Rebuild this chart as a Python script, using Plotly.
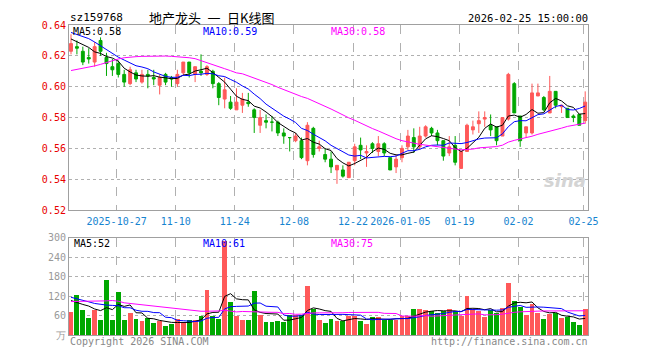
import numpy as np
import pandas as pd
import plotly.graph_objects as go

# ---------------- data ----------------
holidays = ['2026-01-01', '2026-01-02', '2026-02-16', '2026-02-17', '2026-02-18',
            '2026-02-19', '2026-02-20', '2026-02-23']
dates = [d.strftime('%Y-%m-%d') for d in pd.bdate_range('2025-10-15', '2026-02-25')
         if d.strftime('%Y-%m-%d') not in holidays]

open_ = [0.623, 0.626, 0.623, 0.619, 0.616, 0.630, 0.619, 0.613, 0.615, 0.608,
         0.602, 0.609, 0.603, 0.608, 0.606, 0.601, 0.608, 0.606, 0.602, 0.609,
         0.616, 0.608, 0.610, 0.608, 0.610, 0.602, 0.592, 0.590, 0.585, 0.588,
         0.590, 0.585, 0.575, 0.578, 0.577, 0.577, 0.570, 0.567, 0.565, 0.565,
         0.552, 0.573, 0.560, 0.556, 0.553, 0.546, 0.546, 0.541, 0.552, 0.562,
         0.557, 0.563, 0.558, 0.563, 0.554, 0.548, 0.554, 0.561, 0.567, 0.561,
         0.568, 0.573, 0.570, 0.565, 0.557, 0.562, 0.547, 0.558, 0.572, 0.576,
         0.579, 0.575, 0.574, 0.568, 0.579, 0.602, 0.581, 0.570, 0.570, 0.594,
         0.593, 0.583, 0.597, 0.587, 0.586, 0.581, 0.582, 0.578]
high = [0.634, 0.630, 0.626, 0.625, 0.629, 0.632, 0.622, 0.618, 0.617, 0.611,
        0.613, 0.611, 0.611, 0.611, 0.611, 0.608, 0.609, 0.607, 0.611, 0.616,
        0.616, 0.613, 0.621, 0.614, 0.611, 0.603, 0.606, 0.594, 0.599, 0.596,
        0.596, 0.586, 0.585, 0.582, 0.581, 0.578, 0.573, 0.567, 0.570, 0.567,
        0.577, 0.574, 0.565, 0.560, 0.558, 0.549, 0.549, 0.551, 0.563, 0.567,
        0.562, 0.564, 0.568, 0.564, 0.554, 0.556, 0.562, 0.572, 0.573, 0.574,
        0.575, 0.574, 0.572, 0.565, 0.568, 0.568, 0.558, 0.576, 0.578, 0.584,
        0.584, 0.582, 0.574, 0.580, 0.609, 0.603, 0.581, 0.574, 0.602, 0.602,
        0.594, 0.607, 0.597, 0.588, 0.586, 0.582, 0.582, 0.597]
low = [0.621, 0.621, 0.614, 0.615, 0.613, 0.620, 0.607, 0.607, 0.606, 0.600,
       0.601, 0.603, 0.602, 0.599, 0.601, 0.595, 0.601, 0.600, 0.600, 0.607,
       0.606, 0.603, 0.607, 0.607, 0.599, 0.588, 0.586, 0.585, 0.585, 0.583,
       0.587, 0.570, 0.570, 0.573, 0.571, 0.568, 0.563, 0.558, 0.564, 0.553,
       0.549, 0.554, 0.558, 0.551, 0.544, 0.537, 0.541, 0.541, 0.549, 0.553,
       0.548, 0.557, 0.555, 0.555, 0.546, 0.544, 0.551, 0.559, 0.557, 0.559,
       0.567, 0.568, 0.562, 0.552, 0.555, 0.549, 0.547, 0.558, 0.569, 0.570,
       0.574, 0.568, 0.562, 0.568, 0.578, 0.583, 0.561, 0.567, 0.569, 0.594,
       0.584, 0.583, 0.586, 0.583, 0.580, 0.577, 0.575, 0.576]
close = [0.628, 0.625, 0.616, 0.618, 0.626, 0.623, 0.615, 0.611, 0.608, 0.603,
         0.611, 0.605, 0.608, 0.607, 0.605, 0.606, 0.603, 0.605, 0.608, 0.616,
         0.609, 0.613, 0.609, 0.613, 0.602, 0.593, 0.598, 0.586, 0.590, 0.592,
         0.589, 0.580, 0.580, 0.577, 0.577, 0.570, 0.568, 0.567, 0.568, 0.554,
         0.575, 0.556, 0.561, 0.553, 0.548, 0.549, 0.542, 0.551, 0.561, 0.559,
         0.558, 0.560, 0.563, 0.557, 0.546, 0.553, 0.560, 0.568, 0.561, 0.568,
         0.574, 0.570, 0.565, 0.555, 0.561, 0.551, 0.558, 0.575, 0.574, 0.578,
         0.580, 0.572, 0.565, 0.580, 0.608, 0.583, 0.565, 0.574, 0.596, 0.596,
         0.585, 0.597, 0.588, 0.588, 0.580, 0.580, 0.575, 0.590]
volume = [72, 125, 77, 54, 77, 47, 170, 47, 134, 47,
          69, 50, 44, 52, 39, 44, 30, 34, 50, 37,
          47, 47, 58, 140, 60, 50, 290, 101, 60, 47,
          47, 137, 62, 42, 42, 44, 42, 64, 62, 62,
          152, 82, 47, 37, 50, 44, 44, 60, 60, 44,
          35, 57, 57, 47, 47, 47, 60, 60, 80, 80,
          77, 74, 70, 76, 80, 76, 60, 120, 80, 76,
          57, 78, 70, 84, 160, 106, 88, 62, 97, 70,
          50, 66, 70, 52, 55, 40, 33, 80]

# moving-average values for days whose window starts before the shown range
ma5_head = [0.631, 0.629, 0.627, 0.6255]
ma10_head = [0.6352, 0.634, 0.6328, 0.6312, 0.629, 0.6265, 0.6245, 0.6215, 0.6192]
ma30_head = [0.6105, 0.6112, 0.6118, 0.6125, 0.6135, 0.6145, 0.6158, 0.6170, 0.6180, 0.6188,
             0.6193, 0.6195, 0.6197, 0.6198, 0.6199, 0.6199, 0.6199, 0.6197, 0.6195, 0.6192,
             0.6188, 0.6182, 0.6170, 0.6158, 0.6146, 0.6132, 0.6117, 0.6104, 0.6090]
vma5_head = [107, 100, 95, 90]
vma10_head = [117, 113, 108, 103, 98, 95, 93, 92, 91]
vma30_head = [104, 104, 104, 104, 104, 105, 106, 107, 105, 100,
              98, 96, 94, 92, 90, 87, 85, 83, 81, 80,
              77, 74, 74, 74, 74, 75, 77, 75, 72]

tick_dates = ['2025-10-27', '2025-11-10', '2025-11-24', '2025-12-08', '2025-12-22',
              '2026-01-05', '2026-01-19', '2026-02-02', '2026-02-25']
tick_labels = ['2025-10-27', '11-10', '11-24', '12-08', '12-22',
               '2026-01-05', '01-19', '02-02', '02-25']
price_ticks = [0.52, 0.54, 0.56, 0.58, 0.60, 0.62, 0.64]
vol_ticks = [0, 60, 120, 180, 240, 300]
vol_tick_labels = ['万', '60', '120', '180', '240', '300']


def moving(values, n, head):
    s = pd.Series(values, dtype=float).rolling(n).mean().to_numpy()
    s[:len(head)] = head
    return s


ma5 = moving(close, 5, ma5_head)
ma10 = moving(close, 10, ma10_head)
ma30 = moving(close, 30, ma30_head)
vma5 = moving(volume, 5, vma5_head)
vma10 = moving(volume, 10, vma10_head)
vma30 = moving(volume, 30, vma30_head)

# ---------------- figure ----------------
W, H = 660, 360
RED = '#ff5959'
GREEN = '#00a800'
MONO = 'DejaVu Sans Mono'
x = list(range(len(dates)))
tick_pos = [dates.index(d) - 0.28 for d in tick_dates]

L, R = 70, 597.5
MT, MB = 20.7, 211.5
VT, VB = 240.2, 340.7

fig = go.Figure()
fig.add_trace(go.Candlestick(
    x=x, open=open_, high=high, low=low, close=close,
    increasing=dict(line=dict(color=RED, width=1), fillcolor=RED),
    decreasing=dict(line=dict(color=GREEN, width=1), fillcolor=GREEN),
    whiskerwidth=0, showlegend=False, xaxis='x', yaxis='y'))
for arr, col in [(ma5, '#000000'), (ma10, '#0000ff'), (ma30, '#ff00ff')]:
    fig.add_trace(go.Scatter(x=x, y=arr, mode='lines', line=dict(color=col, width=1),
                             showlegend=False, xaxis='x', yaxis='y'))

vol_colors = [RED if c > o else GREEN for o, c in zip(open_, close)]
fig.add_trace(go.Bar(x=x, y=volume, marker=dict(color=vol_colors, line=dict(width=0)),
                     width=0.82, showlegend=False, xaxis='x2', yaxis='y2'))
for arr, col in [(vma5, '#000000'), (vma10, '#0000ff'), (vma30, '#ff00ff')]:
    fig.add_trace(go.Scatter(x=x, y=arr, mode='lines', line=dict(color=col, width=1),
                             showlegend=False, xaxis='x2', yaxis='y2'))

xcommon = dict(range=[-0.35, 87.55], tickmode='array', tickvals=tick_pos,
               showgrid=True, gridcolor='#b0b0b0', griddash='dash', gridwidth=1,
               showline=True, mirror=True, linecolor='#a0a0a0', linewidth=1,
               ticks='', zeroline=False, fixedrange=True)
fig.update_layout(
    width=W, height=H, margin=dict(l=0, r=0, t=0, b=0),
    paper_bgcolor='white', plot_bgcolor='white',
    boxgap=0.3, bargap=0,
    xaxis=dict(domain=[L / W, R / W], anchor='y', ticktext=tick_labels,
               tickfont=dict(family=MONO, size=10, color='#1684d0'),
               ticklabelstandoff=2,
               rangeslider=dict(visible=False), **xcommon),
    xaxis2=dict(domain=[L / W, R / W], anchor='y2', matches='x', showticklabels=False,
                **xcommon),
    yaxis=dict(domain=[1 - MB / H, 1 - MT / H], anchor='x', range=[0.5199999, 0.6400001],
               tickmode='array', tickvals=price_ticks,
               ticktext=['%.2f' % v for v in price_ticks],
               tickfont=dict(family=MONO, size=10, color='#e80000'),
               showgrid=True, gridcolor='#b0b0b0', griddash='dot', gridwidth=1,
               showline=True, mirror=True, linecolor='#a0a0a0', linewidth=1,
               ticks='', zeroline=False, fixedrange=True),
    yaxis2=dict(domain=[1 - VB / H, 1 - VT / H], anchor='x2', range=[0, 300.01],
                tickmode='array', tickvals=vol_ticks, ticktext=vol_tick_labels,
                tickfont=dict(family=MONO, size=10, color='#999999'),
                showgrid=True, gridcolor='#b0b0b0', griddash='dot', gridwidth=1,
                showline=True, mirror=True, linecolor='#a0a0a0', linewidth=1,
                ticks='', zeroline=False, fixedrange=True),
)


def txt(s, px, py, color='#000000', size=10, family=MONO, anchor='left', **kw):
    fig.add_annotation(text=s, x=px / W, y=1 - py / H, xref='paper', yref='paper',
                       xanchor=anchor, yanchor='middle', showarrow=False,
                       font=dict(family=family, size=size, color=color), **kw)


txt('sz159768', 69, 13, size=11)
txt('地产龙头\u2002一\u2002日K线图', 149, 13, size=13, family='Noto Sans CJK SC')
txt('2026-02-25 15:00:00', 599, 13, size=10.5, anchor='right')
txt('MA5:%.2f' % ma5[-1], 72, 27)
txt('MA10:%.2f' % ma10[-1], 204, 27, color='#0000ff')
txt('MA30:%.2f' % ma30[-1], 334, 27, color='#ff00ff')
txt('MA5:%d' % int(vma5[-1]), 73, 246)
txt('MA10:%d' % int(vma10[-1]), 204, 246, color='#0000ff')
txt('MA30:%d' % int(vma30[-1]), 334, 246, color='#ff00ff')
txt('Copyright 2026 SINA.COM', 69, 347, color='#888888')
txt('http://finance.sina.com.cn', 599, 347, color='#888888', anchor='right')
fig.add_annotation(text='<b><i>sina</i></b>', x=597 / W, y=1 - 181 / H, xref='paper',
                   yref='paper', xanchor='right', yanchor='middle', showarrow=False,
                   font=dict(family='DejaVu Sans', size=18, color='#d4d4d4'))

fig.write_html('out.html',
               config={'displayModeBar': False, 'staticPlot': True},
               post_script="document.body.style.margin='0px';"
                           "document.body.style.overflow='hidden';")
